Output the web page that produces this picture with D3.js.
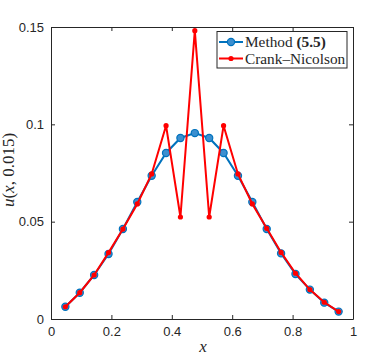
<!DOCTYPE html>
<html><head><meta charset="utf-8">
<script src="https://cdn.jsdelivr.net/npm/d3@7"></script>
<style>body{margin:0;background:#fff}</style>
</head><body>
<svg id="c" width="389" height="359"></svg>
<script>
const xIndex = d3.range(1, 21);
const xValues = xIndex.map(i => i / 21);
const methodValues = [0.0063,0.0135,0.0226,0.0334,0.0462,0.0601,0.0736,0.0853,0.0930,0.0955,0.0930,0.0853,0.0736,0.0601,0.0462,0.0337,0.0231,0.0151,0.0084,0.0038];
const cnValues = [0.0063,0.0135,0.0226,0.0341,0.0462,0.0591,0.0745,0.0993,0.0524,0.1481,0.0524,0.0993,0.0745,0.0591,0.0466,0.0342,0.0235,0.0151,0.0086,0.0038];
const xTicks = [0,0.2,0.4,0.6,0.8,1];
const yTicks = [0,0.05,0.1,0.15];
const xTickLabels = ["0","0.2","0.4","0.6","0.8","1"];
const yTickLabels = ["0","0.05","0.1","0.15"];

const svg = d3.select("#c");
const L=51, R=353, T=27, B=319;
const x = d3.scaleLinear().domain([0,1]).range([L,R]);
const y = d3.scaleLinear().domain([0,0.15]).range([B,T]);
const tickFont = "'Liberation Sans', Arial, sans-serif";
const serif = "'Liberation Serif', 'Times New Roman', serif";

svg.append("rect").attr("x",L).attr("y",T).attr("width",R-L).attr("height",B-T).attr("fill","#fff");

const blue="#0072BD", red="#FF0000";
const line = d3.line().x((d,i)=>x(xValues[i])).y(d=>y(d));
svg.append("path").datum(methodValues).attr("d",line).attr("fill","none").attr("stroke",blue).attr("stroke-width",2);
svg.selectAll(".bm").data(methodValues).enter().append("circle")
  .attr("cx",(d,i)=>x(xValues[i])).attr("cy",d=>y(d)).attr("r",3.6)
  .attr("fill","#3b8fd0").attr("stroke",blue).attr("stroke-width",1.2);
svg.append("path").datum(cnValues).attr("d",line).attr("fill","none").attr("stroke",red).attr("stroke-width",2);
svg.selectAll(".rm").data(cnValues).enter().append("circle")
  .attr("cx",(d,i)=>x(xValues[i])).attr("cy",d=>y(d)).attr("r",2.6).attr("fill",red);

// axes
const axB = svg.append("g").attr("transform",`translate(0,${B})`).call(d3.axisBottom(x).tickValues(xTicks).tickFormat((d,i)=>xTickLabels[i]).tickSizeInner(-4).tickSizeOuter(0).tickPadding(8));
const axT = svg.append("g").attr("transform",`translate(0,${T})`).call(d3.axisTop(x).tickValues(xTicks).tickFormat("").tickSizeInner(-4).tickSizeOuter(0));
const axL = svg.append("g").attr("transform",`translate(${L},0)`).call(d3.axisLeft(y).tickValues(yTicks).tickFormat((d,i)=>yTickLabels[i]).tickSizeInner(-4).tickSizeOuter(0).tickPadding(7));
const axR = svg.append("g").attr("transform",`translate(${R},0)`).call(d3.axisRight(y).tickValues(yTicks).tickFormat("").tickSizeInner(-4).tickSizeOuter(0));
[axB,axT,axL,axR].forEach(a=>{
  a.selectAll("path.domain").attr("stroke","#262626").attr("stroke-width",1);
  a.selectAll(".tick line").attr("stroke","#262626").attr("stroke-width",1);
  a.selectAll("text").attr("font-family",tickFont).attr("font-size",13).attr("fill","#262626");
});
axB.selectAll("text").attr("dy","0.71em");

// axis labels
svg.append("text").attr("x",203).attr("y",352).attr("text-anchor","middle")
  .attr("font-family",serif).attr("font-style","italic").attr("font-size",17).attr("fill","#262626").text("x");
const yl = svg.append("text").attr("transform",`translate(14,170) rotate(-90)`).attr("text-anchor","middle")
  .attr("font-family",serif).attr("font-size",17).attr("fill","#262626");
yl.append("tspan").attr("font-style","italic").text("u");
yl.append("tspan").text("(");
yl.append("tspan").attr("font-style","italic").text("x");
yl.append("tspan").text(", 0.015)");

// legend
const lg = svg.append("g");
lg.append("rect").attr("x",217).attr("y",31.5).attr("width",130).attr("height",36.5)
  .attr("fill","#fff").attr("stroke","#262626").attr("stroke-width",1);
const rows=[{c:blue,y:42,big:true},{c:red,y:58.5,big:false}];
rows.forEach(r=>{
  lg.append("line").attr("x1",219).attr("x2",243).attr("y1",r.y).attr("y2",r.y).attr("stroke",r.c).attr("stroke-width",2);
  if(r.big) lg.append("circle").attr("cx",231).attr("cy",r.y).attr("r",3.6).attr("fill","#3b8fd0").attr("stroke",blue).attr("stroke-width",1.2);
  else lg.append("circle").attr("cx",231).attr("cy",r.y).attr("r",2.6).attr("fill",red);
});
const t1 = lg.append("text").attr("x",245).attr("y",47).attr("font-family",serif).attr("font-size",15.3).attr("fill","#262626");
t1.append("tspan").text("Method ");
t1.append("tspan").attr("font-weight","bold").text("(5.5)");
lg.append("text").attr("x",245).attr("y",63.5).attr("font-family",serif).attr("font-size",15.3).attr("fill","#262626").text("Crank–Nicolson");
</script>
</body></html>
